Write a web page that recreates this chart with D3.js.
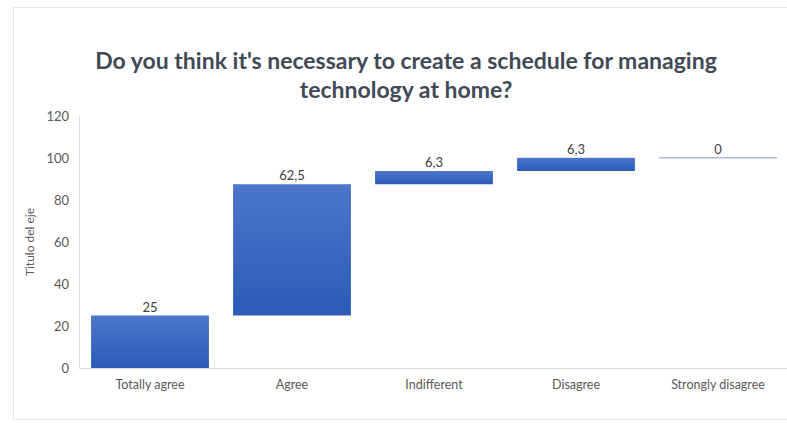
<!DOCTYPE html>
<html><head><meta charset="utf-8">
<script src="https://cdn.jsdelivr.net/npm/d3@7"></script>
<style>body{margin:0;background:#fff;}svg{display:block;font-family:Lato,"Open Sans",sans-serif;}</style>
</head><body>
<svg id="c" width="787" height="423"></svg>
<script>
const categories = ["Totally agree","Agree","Indifferent","Disagree","Strongly disagree"];
const values = [25, 62.5, 6.3, 6.3, 0];
const valueLabels = ["25","62,5","6,3","6,3","0"];
const yTicks = [0,20,40,60,80,100,120];
const titleLines = ["Do you think it's necessary to create a schedule for managing","technology at home?"];
const yAxisTitle = "Titulo del eje";

const svg = d3.select("#c");
// frame
svg.append("rect").attr("x",13.5).attr("y",7.5).attr("width",800).attr("height",412)
  .attr("fill","#fff").attr("stroke","#e3e6ea").attr("stroke-width",1);

const defs = svg.append("defs");
const g1 = defs.append("linearGradient").attr("id","bg").attr("x1",0).attr("y1",0).attr("x2",0).attr("y2",1);
g1.append("stop").attr("offset","0%").attr("stop-color","#4a77ca");
g1.append("stop").attr("offset","100%").attr("stop-color","#2c5bb8");

const x = d3.scaleBand().domain(categories).range([79, 789]).paddingInner(0.17).paddingOuter(0.085);
const y = d3.scaleLinear().domain([0,120]).range([368,116]);

// title
svg.append("g").selectAll("text").data(titleLines).join("text")
  .attr("x", 406).attr("y",(d,i)=>69+i*29).attr("text-anchor","middle")
  .attr("font-size",23).attr("font-weight",700).attr("fill","#3f4a56").text(d=>d);

// y axis
const ya = svg.append("g").attr("transform","translate(79,0)")
  .call(d3.axisLeft(y).tickValues(yTicks).tickSize(0).tickPadding(10));
ya.select(".domain").attr("stroke","#d9d9d9");
ya.selectAll("text").attr("font-size",13).attr("fill","#595959").attr("font-family","Lato,'Open Sans',sans-serif");

// x axis
const xa = svg.append("g").attr("transform","translate(0,368)")
  .call(d3.axisBottom(x).tickSize(0).tickPadding(12));
xa.select(".domain").attr("stroke","#d9d9d9");
xa.selectAll("text").attr("font-size",12.5).attr("fill","#595959").attr("font-family","Lato,'Open Sans',sans-serif");

// y axis title
svg.append("text").attr("transform","translate(34,242) rotate(-90)").attr("text-anchor","middle")
  .attr("font-size",12).attr("fill","#595959").text(yAxisTitle);

// waterfall data
let cum = 0;
const data = values.map((v,i)=>{ const s=cum; cum+=v; return {cat:categories[i], start:s, end:cum, v, label:valueLabels[i]}; });

const bars = svg.append("g");
bars.selectAll("rect").data(data.filter(d=>d.v>0)).join("rect")
  .attr("x",d=>x(d.cat)).attr("width",x.bandwidth())
  .attr("y",d=>y(d.end)).attr("height",d=>y(d.start)-y(d.end))
  .attr("fill","url(#bg)");
bars.selectAll("line").data(data.filter(d=>d.v===0)).join("line")
  .attr("x1",d=>x(d.cat)).attr("x2",d=>x(d.cat)+x.bandwidth())
  .attr("y1",d=>y(d.end)).attr("y2",d=>y(d.end))
  .attr("stroke","#a9bad6").attr("stroke-width",1.5);

svg.append("g").selectAll("text").data(data).join("text")
  .attr("x",d=>x(d.cat)+x.bandwidth()/2).attr("y",d=>y(d.end)-4)
  .attr("text-anchor","middle").attr("font-size",13).attr("fill","#404040").text(d=>d.label);
</script>
</body></html>
